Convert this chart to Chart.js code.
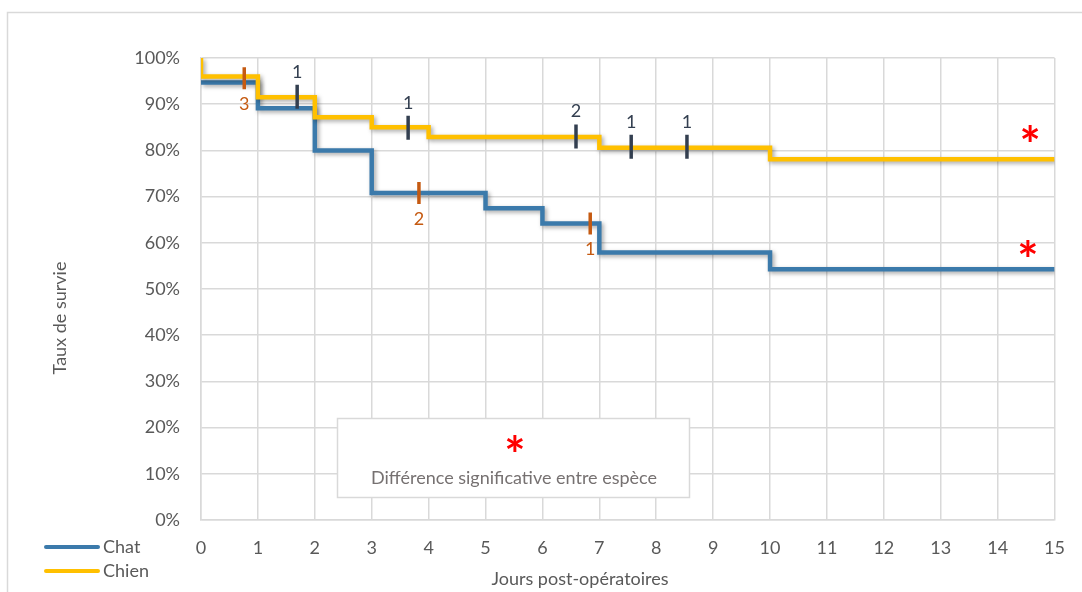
<!DOCTYPE html>
<html lang="fr">
<head>
<meta charset="utf-8">
<title>Taux de survie</title>
<script src="https://cdn.jsdelivr.net/npm/chart.js@4.4.1/dist/chart.umd.min.js"></script>
<style>
    html, body { margin: 0; padding: 0; background: #fff; }
    #wrap { width: 1082px; height: 592px; }
</style>
</head>
<body>
<div id="wrap"><canvas id="survival-chart" width="1082" height="592"></canvas></div>
<script>
/* ===== SURVIVAL CURVES (KAPLAN-MEIER) ===== */

// Step points: day and survival %
const chatDays = [0, 1, 2, 3, 5, 6, 7, 10, 15];
const chatSurvival = [94.7, 89.1, 80.0, 70.8, 67.5, 64.2, 57.9, 54.3, 54.3];
const chienDays = [0, 0, 1, 2, 3, 4, 7, 10, 15];
const chienSurvival = [100, 96.0, 91.5, 87.2, 85.0, 82.9, 80.6, 78.1, 78.1];

// Censored animals: day, level on the curve, how many
const chatCensorDays = [0.76, 3.83, 6.84];
const chatCensorLevel = [95.6, 70.8, 64.2];
const chatCensorCount = ['3', '2', '1'];
const chienCensorDays = [1.69, 3.64, 6.59, 7.56, 8.54];
const chienCensorLevel = [91.6, 84.9, 83.0, 80.8, 80.8];
const chienCensorCount = ['1', '1', '2', '1', '1'];

// Significance asterisks near the end of each curve
const starDays = [14.57, 14.53];
const starLevel = [83.8, 58.9];

const seriesNames = ['Chat', 'Chien'];
const xTitle = 'Jours post-opératoires';
const yTitle = 'Taux de survie';
const noteText = 'Différence significative entre espèce';

const BLUE = '#3B7AAB';
const GOLD = '#FFC000';
const DARK = '#333F50';
const ORANGE = '#C55A11';
const GRID = '#D9D9D9';
const TEXT = '#595959';
const FONT = 'Lato, "Noto Sans", sans-serif';
const STAR_FONT = 'bold 50px Lato, sans-serif';

const toPoints = (xs, ys) => xs.map((x, i) => ({ x, y: ys[i] }));

const ChartPage = {
    init() {
        const ctx = document.getElementById('survival-chart');
        this.chart = new Chart(ctx, {
            type: 'line',
            data: {
                datasets: [
                    {
                        label: seriesNames[1],
                        data: toPoints(chienDays, chienSurvival),
                        borderColor: GOLD,
                        borderWidth: 4.5,
                        stepped: true,
                        pointRadius: 0,
                        borderJoinStyle: 'miter',
                        order: 1
                    },
                    {
                        label: seriesNames[0],
                        data: toPoints(chatDays, chatSurvival),
                        borderColor: BLUE,
                        borderWidth: 4.5,
                        stepped: true,
                        pointRadius: 0,
                        borderJoinStyle: 'miter',
                        order: 2
                    },
                    {
                        label: 'censure chien',
                        data: toPoints(chienCensorDays, chienCensorLevel),
                        showLine: false,
                        pointStyle: 'line',
                        rotation: 90,
                        pointRadius: 12,
                        borderWidth: 3.5,
                        borderColor: DARK,
                        order: 0
                    },
                    {
                        label: 'censure chat',
                        data: toPoints(chatCensorDays, chatCensorLevel),
                        showLine: false,
                        pointStyle: 'line',
                        rotation: 90,
                        pointRadius: 11,
                        borderWidth: 3.5,
                        borderColor: ORANGE,
                        order: 0
                    }
                ]
            },
            options: {
                responsive: false,
                animation: false,
                layout: { padding: { left: 0, top: 58, right: 27, bottom: 0 } },
                plugins: { legend: { display: false }, tooltip: { enabled: false } },
                scales: {
                    x: {
                        type: 'linear', min: 0, max: 15,
                        ticks: { stepSize: 1, padding: 17, color: TEXT, font: { family: FONT, size: 18 } },
                        grid: { color: GRID, lineWidth: 1.5, drawTicks: false },
                        border: { color: GRID, width: 1.5 },
                        afterFit(s) { s.height = 72; }
                    },
                    y: {
                        min: 0, max: 100,
                        ticks: { stepSize: 10, padding: 21, color: TEXT, font: { family: FONT, size: 18 }, callback: v => v + '%' },
                        grid: { color: GRID, lineWidth: 1.5, drawTicks: false },
                        border: { color: GRID, width: 1.5 },
                        afterFit(s) { s.width = 201; }
                    }
                }
            },
            plugins: [this.decor]
        });
    },

    decor: {
        id: 'decor',
        beforeDraw(chart) {
            // outer frame of the chart area (Excel style)
            const c = chart.ctx;
            c.save();
            c.strokeStyle = GRID;
            c.lineWidth = 1.5;
            c.strokeRect(7.5, 12.5, 1200, 700);
            c.restore();
        },
        beforeDatasetDraw(chart, args) {
            if (args.index > 1) return;
            const c = chart.ctx;
            c.save();
            c.shadowColor = 'rgba(0,0,0,0.35)';
            c.shadowBlur = 4;
            c.shadowOffsetX = 2;
            c.shadowOffsetY = 2;
        },
        afterDatasetDraw(chart, args) {
            if (args.index > 1) return;
            chart.ctx.restore();
        },
        afterDraw(chart) {
            const c = chart.ctx;
            const xs = chart.scales.x, ys = chart.scales.y;
            c.save();
            c.textAlign = 'center';
            c.textBaseline = 'middle';
            c.font = '18px ' + FONT;

            // censored counts
            c.fillStyle = DARK;
            chienCensorDays.forEach((d, i) => {
                c.fillText(chienCensorCount[i], xs.getPixelForValue(d), ys.getPixelForValue(chienCensorLevel[i]) - 25);
            });
            c.fillStyle = ORANGE;
            chatCensorDays.forEach((d, i) => {
                c.fillText(chatCensorCount[i], xs.getPixelForValue(d), ys.getPixelForValue(chatCensorLevel[i]) + 26);
            });

            // asterisks
            c.fillStyle = '#FF0000';
            c.font = STAR_FONT;
            starDays.forEach((d, i) => {
                c.fillText('*', xs.getPixelForValue(d), ys.getPixelForValue(starLevel[i]) + 14);
            });

            // note box
            c.fillStyle = '#fff';
            c.fillRect(337, 418, 353, 80);
            c.strokeStyle = GRID;
            c.lineWidth = 1.5;
            c.strokeRect(337.5, 418.5, 352, 79);
            c.fillStyle = '#FF0000';
            c.font = STAR_FONT;
            c.fillText('*', 515, 457);
            c.fillStyle = '#767171';
            c.font = '18px ' + FONT;
            c.fillText(noteText, 514, 478);

            // axis titles
            c.fillStyle = TEXT;
            c.fillText(xTitle, 580, 579);
            c.save();
            c.translate(60, 318);
            c.rotate(-Math.PI / 2);
            c.fillText(yTitle, 0, 0);
            c.restore();

            // legend (bottom left, stacked)
            const legend = [[seriesNames[0], BLUE, 547], [seriesNames[1], GOLD, 571]];
            c.textAlign = 'left';
            legend.forEach(([name, color, y]) => {
                c.strokeStyle = color;
                c.lineWidth = 4;
                c.lineCap = 'round';
                c.beginPath();
                c.moveTo(46, y);
                c.lineTo(98, y);
                c.stroke();
                c.fillStyle = TEXT;
                c.fillText(name, 103, y);
            });
            c.restore();
        }
    }
};

ChartPage.init();
</script>
</body>
</html>
